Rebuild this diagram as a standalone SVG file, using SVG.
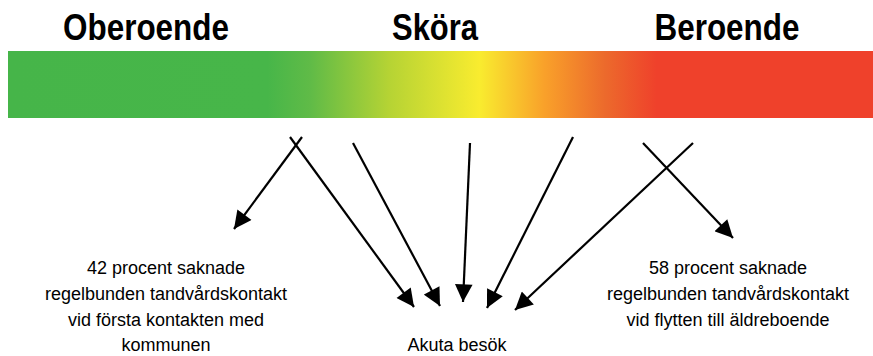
<svg xmlns="http://www.w3.org/2000/svg" width="873" height="356" viewBox="0 0 873 356">
<style>
.h{font-family:"Liberation Sans",Arial,sans-serif;font-weight:bold;font-size:37px;fill:#000;text-anchor:middle}
.t{font-family:"Liberation Sans",Arial,sans-serif;font-size:18px;fill:#000;text-anchor:middle}
.c{stroke:#000;stroke-width:2.2;fill:none;marker-end:url(#ah)}
</style>
<defs>
<linearGradient id="g" x1="0" y1="0" x2="1" y2="0">
<stop offset="0" stop-color="#46b549"/>
<stop offset="0.30" stop-color="#47b649"/>
<stop offset="0.35" stop-color="#60bb47"/>
<stop offset="0.44" stop-color="#b5d334"/>
<stop offset="0.545" stop-color="#f9ec2f"/>
<stop offset="0.62" stop-color="#f9a12a"/>
<stop offset="0.69" stop-color="#ec6a2c"/>
<stop offset="0.75" stop-color="#ef412b"/>
<stop offset="1" stop-color="#ef412b"/>
</linearGradient>
<marker id="ah" viewBox="0 0 10 10" refX="10" refY="5" markerWidth="8.5" markerHeight="8" markerUnits="strokeWidth" orient="auto">
<path d="M0,0 L10,5 L0,10 z" fill="#000"/>
</marker>
</defs>
<g id="header">
<text id="oberoende" class="h" x="146" y="40" textLength="166" lengthAdjust="spacingAndGlyphs">Oberoende</text>
<text id="skora" class="h" x="435" y="40" textLength="86" lengthAdjust="spacingAndGlyphs">Sköra</text>
<text id="beroende" class="h" x="727" y="40" textLength="145" lengthAdjust="spacingAndGlyphs">Beroende</text>
</g>
<g id="bar"><rect x="8" y="51" width="865" height="67" fill="url(#g)"/></g>
<g id="connectors">
<line class="c" x1="302" y1="137" x2="234" y2="229"/>
<line class="c" x1="290" y1="137" x2="414" y2="307"/>
<line class="c" x1="353" y1="143" x2="440" y2="306"/>
<line class="c" x1="470" y1="143" x2="463" y2="302"/>
<line class="c" x1="573" y1="137" x2="487" y2="308"/>
<line class="c" x1="693" y1="143" x2="515" y2="310"/>
<line class="c" x1="643" y1="143" x2="733" y2="238"/>
</g>
<g id="left-text">
<text class="t" x="166" y="274">42 procent saknade</text>
<text class="t" x="166" y="300">regelbunden tandvårdskontakt</text>
<text class="t" x="166" y="326">vid första kontakten med</text>
<text class="t" x="166" y="351">kommunen</text>
</g>
<g id="right-text">
<text class="t" x="728" y="274">58 procent saknade</text>
<text class="t" x="728" y="300">regelbunden tandvårdskontakt</text>
<text class="t" x="728" y="326">vid flytten till äldreboende</text>
</g>
<g id="center-text">
<text class="t" x="457" y="351">Akuta besök</text>
</g>
</svg>
